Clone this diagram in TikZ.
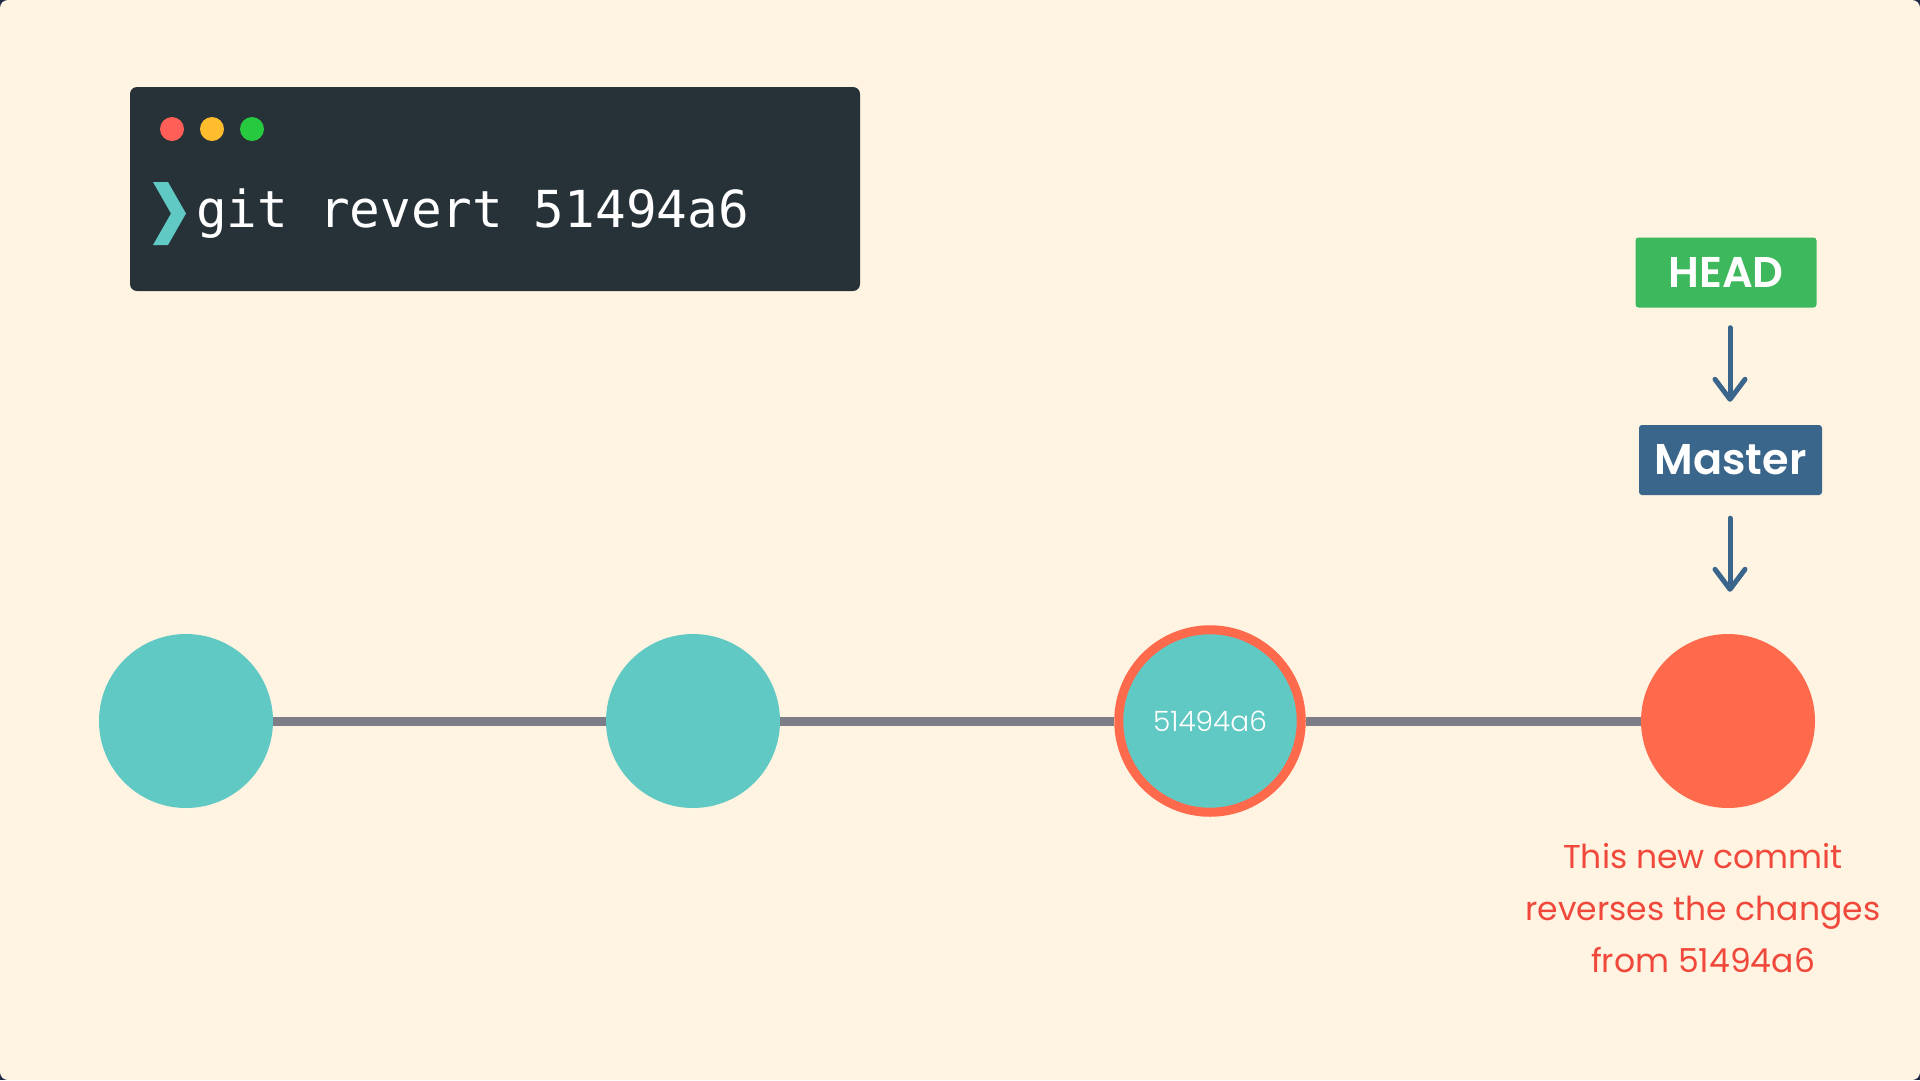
\documentclass[tikz,border=0pt]{standalone}
\usepackage{fontspec}
\setmainfont{Poppins}
\newfontfamily\termfont{DejaVu Sans Mono}
\newfontfamily\labelfont{Poppins}[UprightFont=* SemiBold]
\newfontfamily\lightfont{Poppins}[UprightFont=* Light]
\usetikzlibrary{arrows.meta,backgrounds}
\definecolor{cream}{HTML}{FFF3E2}
\definecolor{edge}{HTML}{1E2A44}
\definecolor{term}{HTML}{263238}
\definecolor{teal}{HTML}{61C9C3}
\definecolor{coral}{HTML}{FF6A4D}
\definecolor{track}{HTML}{7C7D87}
\definecolor{headgreen}{HTML}{3DB85C}
\definecolor{branchblue}{HTML}{3B668C}
\definecolor{capred}{HTML}{F0493B}
\definecolor{dotred}{HTML}{FF5F56}
\definecolor{dotyellow}{HTML}{FFBD2E}
\definecolor{dotgreen}{HTML}{27C93F}
\tikzset{
  commit/.style={circle, fill=teal, minimum size=174pt, inner sep=0pt},
  newcommit/.style={circle, fill=coral, minimum size=174pt, inner sep=0pt},
  target/.style={circle, fill=teal, draw=coral, line width=9pt, minimum size=182.5pt, inner sep=0pt,
    text=white, font=\lightfont\fontsize{28}{28}\selectfont},
  label/.style={rounded corners=3pt, inner sep=0pt, text=white, font=\labelfont\fontsize{43}{43}\selectfont},
  pointer/.style={draw=branchblue, line width=5pt, line cap=round,
    -{Straight Barb[length=20pt, width=30pt, line width=5pt, round]}},
  track/.style={draw=track, line width=9pt},
  caption/.style={text=capred, anchor=base, inner sep=0pt, font=\fontsize{33}{33}\selectfont},
  dot/.style={circle, minimum size=24pt, inner sep=0pt},
}
\begin{document}
\begin{tikzpicture}[x=1pt, y=-1pt]
\useasboundingbox (0,0) rectangle (1920,1080);

% terminal
\fill[term, rounded corners=7pt] (130,87) rectangle (860,291);
\node[dot, fill=dotred] (d1) at (172,129) {};
\node[dot, fill=dotyellow] (d2) at (212,129) {};
\node[dot, fill=dotgreen] (d3) at (252,129) {};
\fill[teal] (153,182) -- (168,182) -- (186,213.5) -- (168,245) -- (153,245) -- (171,213.5) -- cycle;
\node[anchor=base west, inner sep=0pt, text=white, font=\termfont\fontsize{51}{51}\selectfont] (cmd) at (196,227) {git revert 51494a6};

% commits
\node[commit] (c1) at (186,721) {};
\node[commit] (c2) at (693,721) {};
\node[target] (c3) at (1210,721) {51494a6};
\node[newcommit] (c4) at (1728,721) {};
\begin{scope}[on background layer]
\fill[edge] (0,0) rectangle (1920,1080);
\fill[cream, rounded corners=8pt] (0,0) rectangle (1920,1080);
\draw[track] (c1) -- (c2);
\draw[track] (c2) -- (c3);
\draw[track] (c3) -- (c4);
\end{scope}

% refs
\node[label, fill=headgreen, minimum width=181pt, minimum height=70pt] (head) at (1726,272.5) {HEAD};
\node[label, fill=branchblue, minimum width=183pt, minimum height=70pt] (master) at (1730.5,460) {Master};
\draw[pointer, shorten <=20pt, shorten >=23pt] (head.south -| 1730,0) -- (master.north -| 1730,0);
\draw[pointer, shorten <=23pt, shorten >=42pt] (master.south -| 1730,0) -- (c4.north -| 1730,0);

% caption
\node[caption] (cap1) at (1703,868) {This new commit};
\node[caption] (cap2) at (1703,920) {reverses the changes};
\node[caption] (cap3) at (1703,972) {from 51494a6};
\end{tikzpicture}
\end{document}
